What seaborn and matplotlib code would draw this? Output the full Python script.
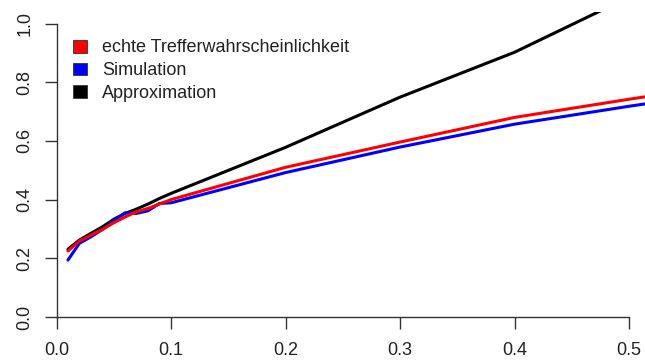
import matplotlib
matplotlib.use("Agg")
import matplotlib.pyplot as plt
from matplotlib.patches import Patch
import seaborn as sns
import pandas as pd

x_vals = [0.01, 0.02, 0.03, 0.04, 0.05, 0.06, 0.07, 0.08, 0.09, 0.10,
          0.20, 0.30, 0.40, 0.50, 0.60]
echte = [0.225, 0.259, 0.279, 0.298, 0.321, 0.341, 0.359, 0.370, 0.385, 0.400,
         0.510, 0.596, 0.680, 0.742, 0.800]
simulation = [0.194, 0.251, 0.273, 0.298, 0.328, 0.355, 0.353, 0.362, 0.387, 0.389,
              0.492, 0.579, 0.657, 0.718, 0.775]
approximation = [0.231, 0.262, 0.285, 0.307, 0.333, 0.353, 0.368, 0.385, 0.404, 0.421,
                 0.578, 0.749, 0.902, 1.090, 1.280]
labels = ["echte Trefferwahrscheinlichkeit", "Simulation", "Approximation"]
colors = ["#ff0000", "#0000ff", "#000000"]
x_ticks = [0.0, 0.1, 0.2, 0.3, 0.4, 0.5]
y_ticks = [0.0, 0.2, 0.4, 0.6, 0.8, 1.0]

rows = []
for lab, ys in zip(labels, [echte, simulation, approximation]):
    for xv, yv in zip(x_vals, ys):
        rows.append({"x": xv, "y": yv, "series": lab})
df = pd.DataFrame(rows)

sns.set_style("white")
plt.rcParams["font.family"] = ["Liberation Sans", "DejaVu Sans"]

W, H = 645, 362
fig = plt.figure(figsize=(W / 100, H / 100), dpi=100)
left_px, right_px, bottom_px, top_px = 56.5, 645, 317, 12
ax = fig.add_axes([left_px / W, (H - bottom_px) / H,
                   (right_px - left_px) / W, (bottom_px - top_px) / H])

order = ["Approximation", "Simulation", "echte Trefferwahrscheinlichkeit"]
pal = dict(zip(labels, colors))
for name in order:
    sns.lineplot(data=df[df.series == name], x="x", y="y", color=pal[name],
                 linewidth=2.2, ax=ax, legend=False, estimator=None)

px_per_unit_x = (629 - 56.5) / 0.5
ax.set_xlim(0, (right_px - left_px) / px_per_unit_x)
px_per_unit_y = (317 - 23.5) / 1.0
ax.set_ylim(0, (bottom_px - top_px) / px_per_unit_y)

for s in ["top", "right"]:
    ax.spines[s].set_visible(False)
ax.spines["left"].set_bounds(0, 1.0)
ax.spines["bottom"].set_bounds(0, 0.5)
for s in ["left", "bottom"]:
    ax.spines[s].set_color("#333333")
    ax.spines[s].set_linewidth(1.0)

ax.set_xticks(x_ticks)
ax.set_xticklabels([f"{t:.1f}" for t in x_ticks])
ax.set_yticks(y_ticks)
ax.set_yticklabels([f"{t:.1f}" for t in y_ticks], rotation=90, va="center")
ax.tick_params(axis="both", direction="out", length=8.7, width=1.0, color="#333333",
               labelsize=13, labelcolor="#222222", bottom=True, left=True)
ax.tick_params(axis="x", pad=9)
ax.tick_params(axis="y", pad=8)
ax.set_xlabel("")
ax.set_ylabel("")
ax.grid(False)

handles = [Patch(facecolor=c, edgecolor="#333333", linewidth=0.6) for c in colors]
leg = ax.legend(handles, labels, loc="upper left",
                bbox_to_anchor=(72.5 / W, (H - 39.5) / H), bbox_transform=fig.transFigure,
                frameon=False, fontsize=13, handlelength=0.8, handleheight=0.7,
                handletextpad=0.85, labelspacing=0.32, borderpad=0, borderaxespad=0)
for t in leg.get_texts():
    t.set_color("#222222")

fig.savefig("out.png", dpi=100)
